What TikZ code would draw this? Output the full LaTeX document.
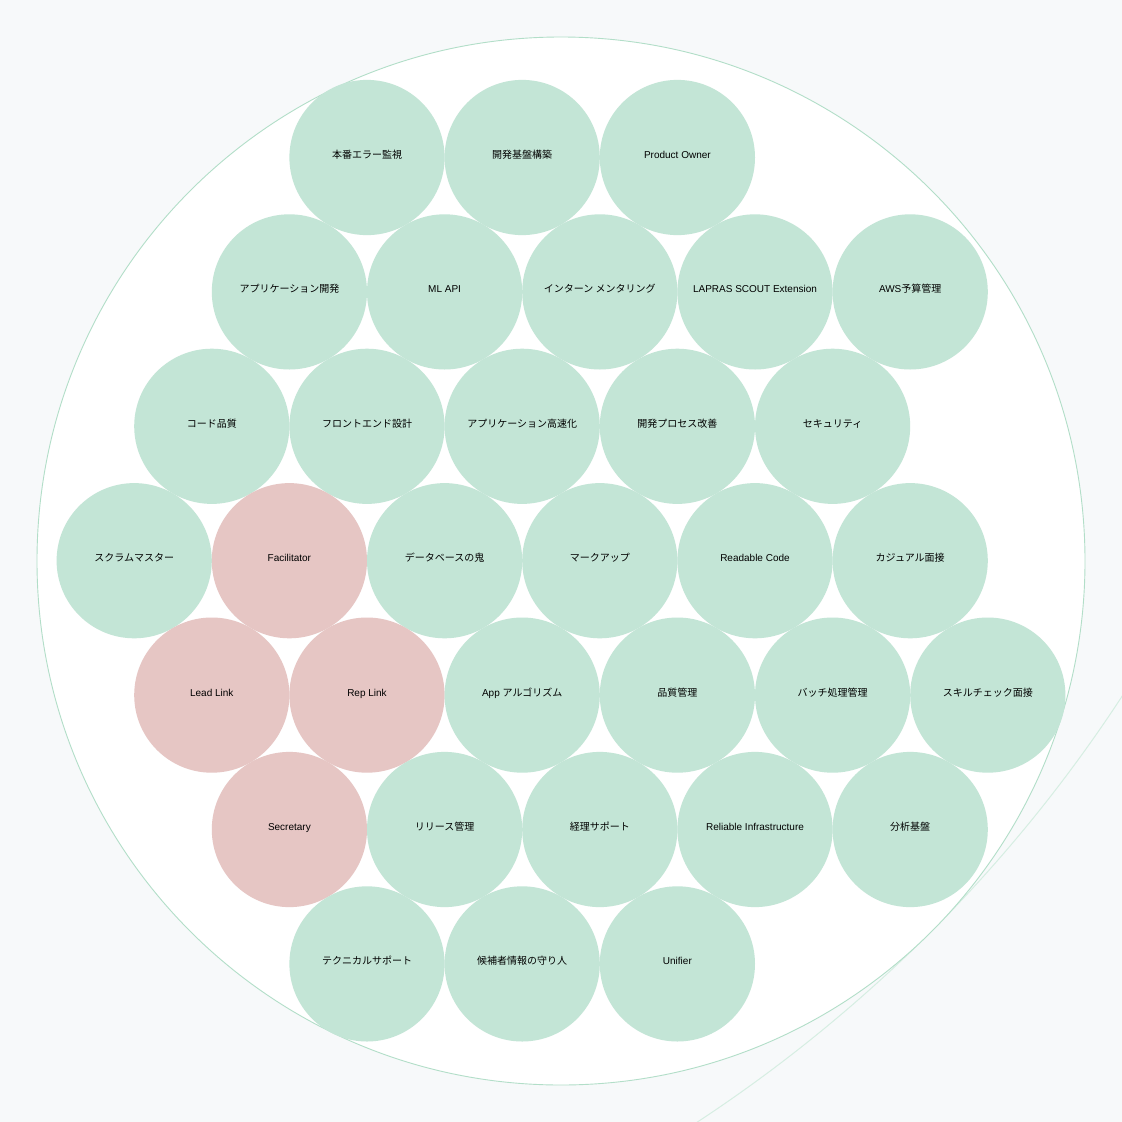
\documentclass[tikz,border=0pt]{standalone}
\usepackage{fontspec}
\setmainfont{Liberation Sans}
\newfontfamily\cjk{Noto Sans CJK JP}
\definecolor{bgc}{RGB}{247,249,250}
\definecolor{gfill}{RGB}{195,229,214}
\definecolor{pfill}{RGB}{230,198,196}
\definecolor{ring}{RGB}{178,222,200}
\definecolor{faint}{RGB}{214,238,226}
\definecolor{txt}{RGB}{0,0,0}
\tikzset{
  gc/.style={circle,fill=gfill,draw=none,minimum size=155.2pt,inner sep=0pt},
  pc/.style={circle,fill=pfill,draw=none,minimum size=155.2pt,inner sep=0pt},
  lab/.style={anchor=base,inner sep=0pt,text=txt,font=\fontsize{10}{12}\selectfont,yshift=-1pt},
}
\begin{document}
\begin{tikzpicture}[x=1pt,y=-1pt]
\fill[bgc] (0,0) rectangle (1122,1122);
\useasboundingbox (0,0) rectangle (1122,1122);
\begin{scope}
\clip (0,0) rectangle (1122,1122);
\draw[faint,line width=1pt] (-107,-105) circle[radius=1467];
\end{scope}
\coordinate (bc) at (561,561);
\draw[ring,fill=white,line width=0.9pt] (bc) circle[radius=524];
% row 1
\node[gc] (a1) at (367.0,157.5) {}; \node[lab] (ta1) at (a1.center) {\cjk 本番エラー監視};
\node[gc] (a2) at (522.2,157.5) {}; \node[lab] (ta2) at (a2.center) {\cjk 開発基盤構築};
\node[gc] (a3) at (677.4,157.5) {}; \node[lab] (ta3) at (a3.center) {Product Owner};
% row 2
\node[gc] (b1) at (289.4,291.9) {}; \node[lab] (tb1) at (b1.center) {\cjk アプリケーション開発};
\node[gc] (b2) at (444.6,291.9) {}; \node[lab] (tb2) at (b2.center) {ML API};
\node[gc] (b3) at (599.8,291.9) {}; \node[lab] (tb3) at (b3.center) {\cjk インターン メンタリング};
\node[gc] (b4) at (755.0,291.9) {}; \node[lab] (tb4) at (b4.center) {LAPRAS SCOUT Extension};
\node[gc] (b5) at (910.2,291.9) {}; \node[lab] (tb5) at (b5.center) {AWS{\cjk 予算管理}};
% row 3
\node[gc] (c1) at (211.8,426.3) {}; \node[lab] (tc1) at (c1.center) {\cjk コード品質};
\node[gc] (c2) at (367.0,426.3) {}; \node[lab] (tc2) at (c2.center) {\cjk フロントエンド設計};
\node[gc] (c3) at (522.2,426.3) {}; \node[lab] (tc3) at (c3.center) {\cjk アプリケーション高速化};
\node[gc] (c4) at (677.4,426.3) {}; \node[lab] (tc4) at (c4.center) {\cjk 開発プロセス改善};
\node[gc] (c5) at (832.6,426.3) {}; \node[lab] (tc5) at (c5.center) {\cjk セキュリティ};
% row 4
\node[gc] (d1) at (134.2,560.7) {}; \node[lab] (td1) at (d1.center) {\cjk スクラムマスター};
\node[pc] (d2) at (289.4,560.7) {}; \node[lab] (td2) at (d2.center) {Facilitator};
\node[gc] (d3) at (444.6,560.7) {}; \node[lab] (td3) at (d3.center) {\cjk データベースの鬼};
\node[gc] (d4) at (599.8,560.7) {}; \node[lab] (td4) at (d4.center) {\cjk マークアップ};
\node[gc] (d5) at (755.0,560.7) {}; \node[lab] (td5) at (d5.center) {Readable Code};
\node[gc] (d6) at (910.2,560.7) {}; \node[lab] (td6) at (d6.center) {\cjk カジュアル面接};
% row 5
\node[pc] (e1) at (211.8,695.1) {}; \node[lab] (te1) at (e1.center) {Lead Link};
\node[pc] (e2) at (367.0,695.1) {}; \node[lab] (te2) at (e2.center) {Rep Link};
\node[gc] (e3) at (522.2,695.1) {}; \node[lab] (te3) at (e3.center) {App {\cjk アルゴリズム}};
\node[gc] (e4) at (677.4,695.1) {}; \node[lab] (te4) at (e4.center) {\cjk 品質管理};
\node[gc] (e5) at (832.6,695.1) {}; \node[lab] (te5) at (e5.center) {\cjk バッチ処理管理};
\node[gc] (e6) at (987.8,695.1) {}; \node[lab] (te6) at (e6.center) {\cjk スキルチェック面接};
% row 6
\node[pc] (f1) at (289.4,829.5) {}; \node[lab] (tf1) at (f1.center) {Secretary};
\node[gc] (f2) at (444.6,829.5) {}; \node[lab] (tf2) at (f2.center) {\cjk リリース管理};
\node[gc] (f3) at (599.8,829.5) {}; \node[lab] (tf3) at (f3.center) {\cjk 経理サポート};
\node[gc] (f4) at (755.0,829.5) {}; \node[lab] (tf4) at (f4.center) {Reliable Infrastructure};
\node[gc] (f5) at (910.2,829.5) {}; \node[lab] (tf5) at (f5.center) {\cjk 分析基盤};
% row 7
\node[gc] (g1) at (367.0,963.9) {}; \node[lab] (tg1) at (g1.center) {\cjk テクニカルサポート};
\node[gc] (g2) at (522.2,963.9) {}; \node[lab] (tg2) at (g2.center) {\cjk 候補者情報の守り人};
\node[gc] (g3) at (677.4,963.9) {}; \node[lab] (tg3) at (g3.center) {Unifier};
\end{tikzpicture}
\end{document}
